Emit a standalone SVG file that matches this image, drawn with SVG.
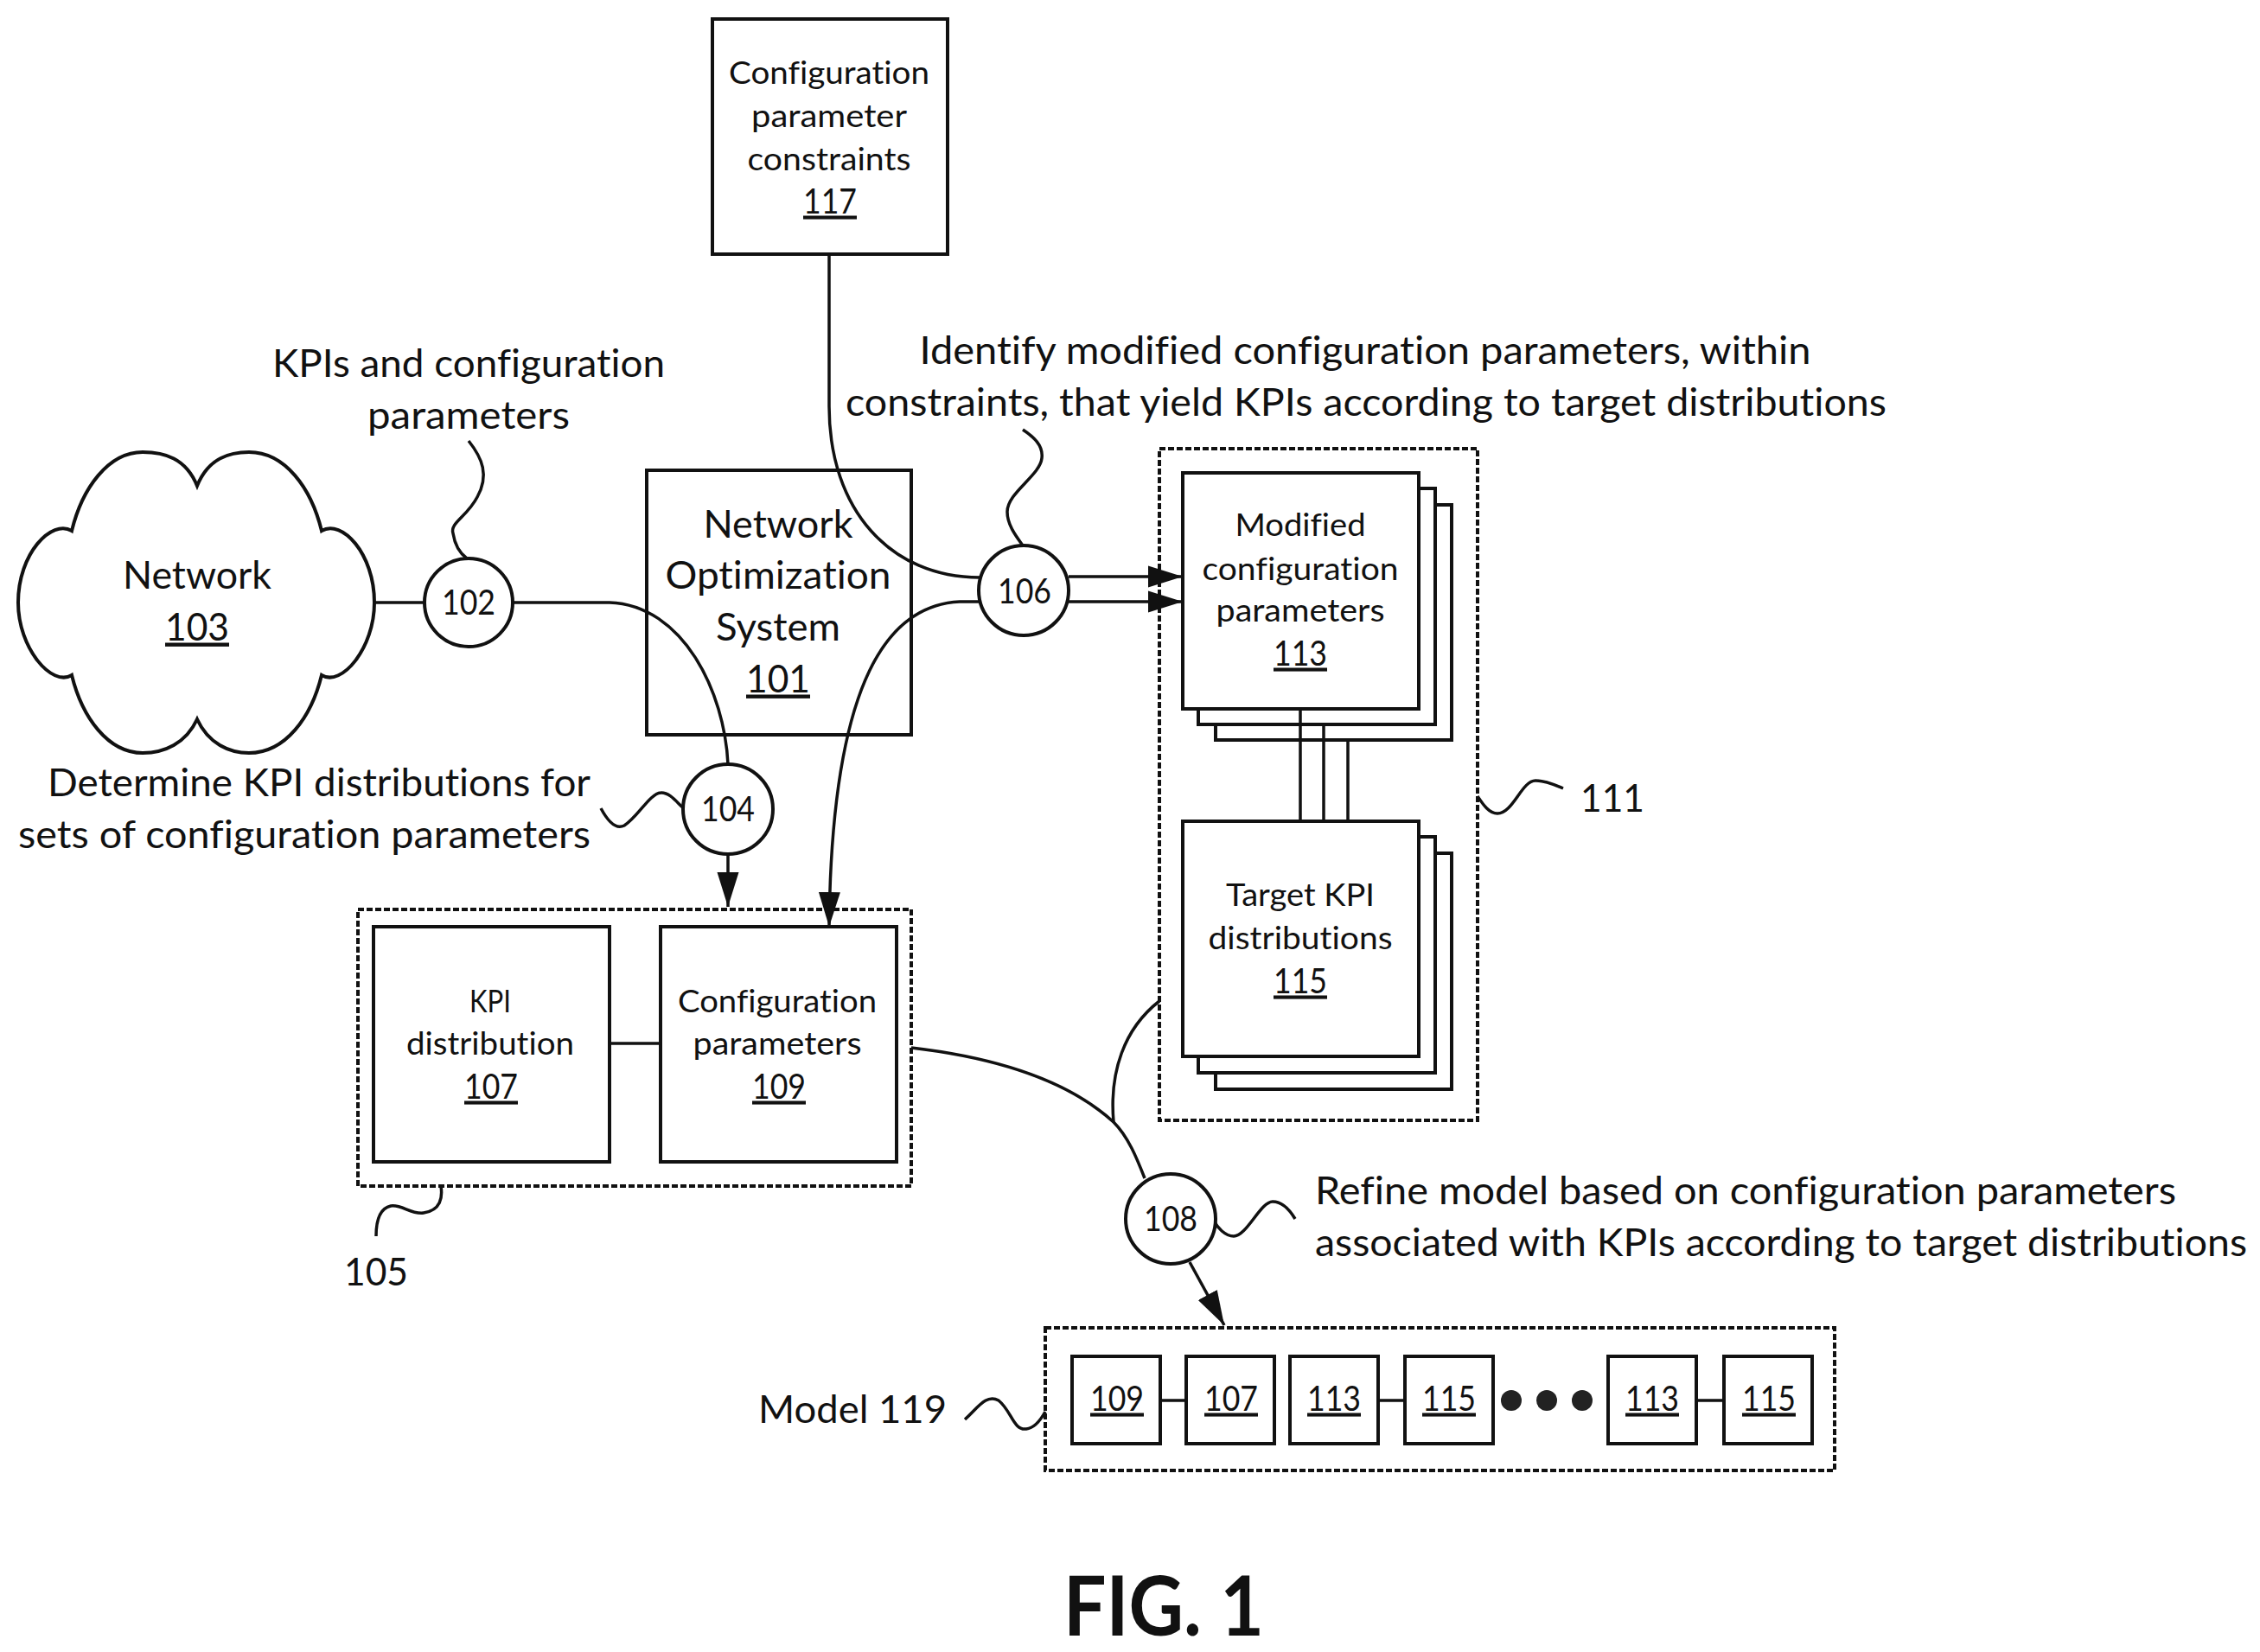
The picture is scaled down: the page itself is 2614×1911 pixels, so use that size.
<svg xmlns="http://www.w3.org/2000/svg" width="2614" height="1911" viewBox="0 0 2614 1911">
<style>
text{font-family:"Lato","Carlito","Open Sans",sans-serif;fill:#111;text-anchor:middle;font-variant-ligatures:none;transform:translate(-1px,-0.5px)}
.a{font-size:44px}
.b{font-size:37px}
.n{font-size:41px}
.u{text-decoration:underline}
.f{font-size:96px;font-weight:700}
.box{fill:#fff;stroke:#111;stroke-width:4}
.open{fill:none;stroke:#111;stroke-width:4}
.dash{fill:none;stroke:#111;stroke-width:4;stroke-dasharray:7 3}
.line{fill:none;stroke:#111;stroke-width:3.5}
.arrow{marker-end:url(#ah)}
</style>
<defs>
<marker id="ah" markerUnits="userSpaceOnUse" markerWidth="44" markerHeight="30" refX="40" refY="15" orient="auto"><path d="M0 2.5L40 15L0 27.5Z" fill="#111"/></marker>
</defs>
<rect width="2614" height="1911" fill="#fff"/>
<g id="node-117"><rect class="box" x="824" y="22" width="272" height="272"/>
<text class="b" x="960" y="97" textLength="232" lengthAdjust="spacingAndGlyphs">Configuration</text>
<text class="b" x="960" y="147" textLength="180" lengthAdjust="spacingAndGlyphs">parameter</text>
<text class="b" x="960" y="197" textLength="189" lengthAdjust="spacingAndGlyphs">constraints</text>
<text class="n u" x="961" y="247" textLength="62" lengthAdjust="spacingAndGlyphs">117</text></g>
<g id="label-kpis"><text class="a" x="543" y="436" textLength="454" lengthAdjust="spacingAndGlyphs">KPIs and configuration</text>
<text class="a" x="543" y="496" textLength="234" lengthAdjust="spacingAndGlyphs">parameters</text></g>
<g id="label-identify"><text class="a" x="1580" y="421" textLength="1031" lengthAdjust="spacingAndGlyphs">Identify modified configuration parameters, within</text>
<text class="a" x="1581" y="481" textLength="1204" lengthAdjust="spacingAndGlyphs">constraints, that yield KPIs according to target distributions</text></g>
<g id="node-103"><path class="open" d="M228 562C215 530 190 523 165 523C125 523 95 565 83 614C60 600 21 640 21 697C21 750 60 795 83 781C95 830 125 871 165 871C190 871 215 860 228 832C241 860 265 871 288 871C330 871 360 830 372 781C395 795 433 750 433 697C433 640 395 600 372 614C360 565 330 523 288 523C265 523 241 530 228 562Z"/>
<text class="a" x="229" y="681" textLength="172" lengthAdjust="spacingAndGlyphs">Network</text>
<text class="a u" x="229" y="741" textLength="74" lengthAdjust="spacingAndGlyphs">103</text></g>
<g id="node-101"><rect class="open" x="748" y="544" width="306" height="306"/>
<text class="a" x="901" y="622" textLength="173" lengthAdjust="spacingAndGlyphs">Network</text>
<text class="a" x="901" y="681" textLength="261" lengthAdjust="spacingAndGlyphs">Optimization</text>
<text class="a" x="901" y="741" textLength="144" lengthAdjust="spacingAndGlyphs">System</text>
<text class="a u" x="901" y="801" textLength="74" lengthAdjust="spacingAndGlyphs">101</text></g>
<g id="label-determine"><text class="a" x="684" y="921" style="text-anchor:end" textLength="628" lengthAdjust="spacingAndGlyphs">Determine KPI distributions for</text>
<text class="a" x="684" y="981" style="text-anchor:end" textLength="662" lengthAdjust="spacingAndGlyphs">sets of configuration parameters</text></g>
<g id="node-105"><rect class="dash" x="414" y="1052" width="640" height="320"/></g>
<g id="node-107"><rect class="box" x="432" y="1072" width="273" height="272"/>
<text class="b" x="568" y="1171" textLength="48" lengthAdjust="spacingAndGlyphs">KPI</text>
<text class="b" x="568" y="1220" textLength="194" lengthAdjust="spacingAndGlyphs">distribution</text>
<text class="n u" x="569" y="1271" textLength="62" lengthAdjust="spacingAndGlyphs">107</text></g>
<g id="node-109"><rect class="box" x="764" y="1072" width="273" height="272"/>
<text class="b" x="900" y="1171" textLength="230" lengthAdjust="spacingAndGlyphs">Configuration</text>
<text class="b" x="900" y="1220" textLength="195" lengthAdjust="spacingAndGlyphs">parameters</text>
<text class="n u" x="902" y="1271" textLength="62" lengthAdjust="spacingAndGlyphs">109</text></g>
<g id="label-105"><text class="a" x="436" y="1487" textLength="74" lengthAdjust="spacingAndGlyphs">105</text></g>
<g id="node-111"><rect class="dash" x="1341" y="519" width="368" height="777"/></g>
<g id="label-111"><text class="a" x="1866" y="939" textLength="74" lengthAdjust="spacingAndGlyphs">111</text></g>
<g id="node-113">
<rect class="box" x="1406" y="584" width="273" height="272"/>
<rect class="box" x="1386" y="565" width="274" height="273"/>
<rect class="box" x="1368" y="547" width="273" height="273"/>
<text class="b" x="1505" y="620" textLength="151" lengthAdjust="spacingAndGlyphs">Modified</text>
<text class="b" x="1505" y="671" textLength="227" lengthAdjust="spacingAndGlyphs">configuration</text>
<text class="b" x="1505" y="719" textLength="195" lengthAdjust="spacingAndGlyphs">parameters</text>
<text class="n u" x="1505" y="770" textLength="62" lengthAdjust="spacingAndGlyphs">113</text></g>
<g id="node-115">
<rect class="box" x="1406" y="987" width="273" height="273"/>
<rect class="box" x="1386" y="968" width="274" height="273"/>
<rect class="box" x="1368" y="950" width="273" height="272"/>
<text class="b" x="1505" y="1048" textLength="172" lengthAdjust="spacingAndGlyphs">Target KPI</text>
<text class="b" x="1505" y="1098" textLength="213" lengthAdjust="spacingAndGlyphs">distributions</text>
<text class="n u" x="1505" y="1149" textLength="62" lengthAdjust="spacingAndGlyphs">115</text></g>
<g id="label-refine"><text class="a" x="1522" y="1393" style="text-anchor:start" textLength="996" lengthAdjust="spacingAndGlyphs">Refine model based on configuration parameters</text>
<text class="a" x="1522" y="1453" style="text-anchor:start" textLength="1078" lengthAdjust="spacingAndGlyphs">associated with KPIs according to target distributions</text></g>
<g id="label-119"><text class="a" x="878" y="1646" style="text-anchor:start" textLength="218" lengthAdjust="spacingAndGlyphs">Model 119</text></g>
<g id="node-119"><rect class="dash" x="1209" y="1536" width="913" height="165"/>
<rect class="open" x="1240" y="1569" width="102" height="101"/><text class="n u" x="1293" y="1632" textLength="62" lengthAdjust="spacingAndGlyphs">109</text>
<rect class="open" x="1372" y="1569" width="102" height="101"/><text class="n u" x="1425" y="1632" textLength="62" lengthAdjust="spacingAndGlyphs">107</text>
<rect class="open" x="1492" y="1569" width="102" height="101"/><text class="n u" x="1544" y="1632" textLength="62" lengthAdjust="spacingAndGlyphs">113</text>
<rect class="open" x="1625" y="1569" width="102" height="101"/><text class="n u" x="1677" y="1632" textLength="62" lengthAdjust="spacingAndGlyphs">115</text>
<circle cx="1748" cy="1620" r="12" fill="#222"/><circle cx="1789" cy="1620" r="12" fill="#222"/><circle cx="1830" cy="1620" r="12" fill="#222"/>
<rect class="open" x="1860" y="1569" width="102" height="101"/><text class="n u" x="1912" y="1632" textLength="62" lengthAdjust="spacingAndGlyphs">113</text>
<rect class="open" x="1994" y="1569" width="102" height="101"/><text class="n u" x="2047" y="1632" textLength="62" lengthAdjust="spacingAndGlyphs">115</text></g>
<g id="connectors">
<path class="line" d="M433 697H491"/>
<path class="line" d="M593 697H705C790 700 838 800 842 884"/>
<path class="line arrow" d="M842 988V1049"/>
<path class="line arrow" d="M1133 696H1110C1030 700 962 780 959 1072"/>
<path class="line" d="M959 294V470C959 590 1030 668 1133 668"/>
<path class="line arrow" d="M1236 667H1368"/>
<path class="line arrow" d="M1236 696H1368"/>
<path class="line" d="M705 1207H764"/>
<path class="line" d="M1504 820V950M1531 838V950M1559 856V950"/>
<path class="line" d="M1054 1212C1140 1222 1230 1245 1288 1298C1305 1315 1315 1340 1324 1363"/>
<path class="line" d="M1341 1158C1300 1190 1283 1240 1288 1298"/>
<path class="line arrow" d="M1376 1460L1416 1533"/>
<path class="line" d="M1342 1620H1372M1594 1620H1625M1962 1620H1994"/>
<path class="line" d="M542 510C558 530 566 550 552 575C540 598 520 605 524 617C526 630 532 640 540 646"/>
<path class="line" d="M695 935C703 950 712 960 722 955C738 945 752 917 765 917C776 917 784 930 792 936"/>
<path class="line" d="M1183 497C1195 505 1207 515 1205 530C1203 550 1165 570 1165 592C1165 607 1175 620 1183 631"/>
<path class="line" d="M1709 921C1715 930 1722 941 1732 941C1750 941 1760 903 1776 903C1788 903 1798 908 1808 912"/>
<path class="line" d="M1404 1412C1408 1420 1417 1430 1427 1430C1442 1430 1458 1390 1472 1390C1484 1390 1492 1400 1498 1410"/>
<path class="line" d="M1116 1642C1130 1630 1140 1612 1155 1620C1170 1632 1172 1655 1187 1653C1197 1652 1204 1642 1209 1633"/>
<path class="line" d="M510 1372C512 1385 510 1400 490 1403C475 1405 465 1393 452 1395C438 1398 435 1415 435 1430"/>
</g>
<g id="node-102"><circle class="box" cx="542" cy="697" r="51"/><text class="n" x="543" y="711" textLength="62" lengthAdjust="spacingAndGlyphs">102</text></g>
<g id="node-104"><circle class="box" cx="842" cy="936" r="52"/><text class="n" x="843" y="950" textLength="62" lengthAdjust="spacingAndGlyphs">104</text></g>
<g id="node-106"><circle class="box" cx="1184" cy="683" r="52"/><text class="n" x="1186" y="698" textLength="62" lengthAdjust="spacingAndGlyphs">106</text></g>
<g id="node-108"><circle class="box" cx="1354" cy="1410" r="52"/><text class="n" x="1355" y="1424" textLength="62" lengthAdjust="spacingAndGlyphs">108</text></g>
<g id="title"><text class="f" x="1347" y="1892" textLength="232" lengthAdjust="spacingAndGlyphs">FIG. 1</text></g>
</svg>
